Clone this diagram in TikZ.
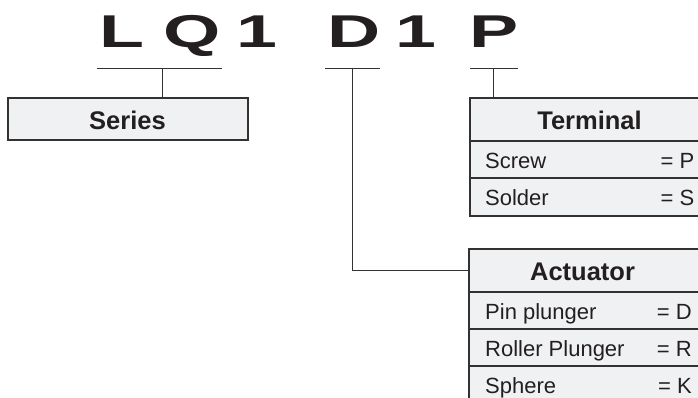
\documentclass[tikz,border=0pt]{standalone}
\usepackage{fontspec}
\setmainfont{Liberation Sans}
\newfontfamily\bigcode[FakeStretch=1.6]{Liberation Sans}
\definecolor{boxfill}{RGB}{240,241,243}
\definecolor{boxline}{RGB}{50,50,50}
\definecolor{ink}{RGB}{35,31,32}
\tikzset{
  code/.style={font=\bigcode\bfseries\fontsize{46}{46}\selectfont, text=ink, anchor=base, inner sep=0pt},
  cell/.style={draw=boxline, fill=boxfill, line width=1.1pt, inner sep=0pt},
  hdr/.style={font=\bfseries\fontsize{25.5}{26}\selectfont, text=ink, inner sep=0pt},
  item/.style={font=\fontsize{22}{22}\selectfont, text=ink, anchor=base west, inner sep=0pt},
  code2/.style={font=\fontsize{22}{22}\selectfont, text=ink, anchor=base east, inner sep=0pt},
  link/.style={draw=boxline, line width=0.9pt},
}
\begin{document}
\begin{tikzpicture}[x=1pt,y=-1pt]
\useasboundingbox (0,0) rectangle (698,398);
\begin{scope}
\clip (0,0) rectangle (698,398);
% code letters
\node[code] (cL) at (121.5,48) {L};
\node[code] (cQ) at (192,48) {Q};
\node[code] (c1) at (256.5,48) {1};
\node[code] (cD) at (354.5,48) {D};
\node[code] (c2) at (415.5,48) {1};
\node[code] (cP) at (494,48) {P};
% bracket lines
\coordinate (b1l) at (97,68);  \coordinate (b1r) at (222,68); \coordinate (b1m) at (162,68);
\coordinate (b2l) at (325,68); \coordinate (b2r) at (380,68); \coordinate (b2m) at (352,68);
\coordinate (b3l) at (470,68); \coordinate (b3r) at (518,68); \coordinate (b3m) at (493.5,68);
\draw[link] (b1l) -- (b1r);
\draw[link] (b2l) -- (b2r);
\draw[link] (b3l) -- (b3r);
% Series
\node[cell, minimum width=240pt, minimum height=42pt] (series) at (128,119) {};
\node[hdr] (seriesT) at (127.5,120) {Series};
% Terminal
\node[cell, minimum width=240pt, minimum height=43pt] (term) at (590,119.5) {};
\node[cell, minimum width=240pt, minimum height=37pt] (term1) at (590,159.5) {};
\node[cell, minimum width=240pt, minimum height=38pt] (term2) at (590,197) {};
\node[hdr] (termT) at (589.5,120.5) {Terminal};
\node[item] (t1a) at (485,168) {Screw};
\node[code2] (t1b) at (694.5,168) {= P};
\node[item] (t2a) at (485,205.5) {Solder};
\node[code2] (t2b) at (694.5,205.5) {= S};
% Actuator
\node[cell, minimum width=241pt, minimum height=43pt] (act) at (589.5,270.5) {};
\node[cell, minimum width=241pt, minimum height=37pt] (act1) at (589.5,310.5) {};
\node[cell, minimum width=241pt, minimum height=37pt] (act2) at (589.5,347.5) {};
\node[cell, minimum width=241pt, minimum height=37pt] (act3) at (589.5,384.5) {};
\node[hdr] (actT) at (582.5,271.5) {Actuator};
\node[item] (a1a) at (485,319) {Pin plunger};
\node[code2] (a1b) at (692,319) {= D};
\node[item] (a2a) at (485,356) {Roller Plunger};
\node[code2] (a2b) at (692,356) {= R};
\node[item] (a3a) at (485,393) {Sphere};
\node[code2] (a3b) at (692,393) {= K};
% connectors
\draw[link] (b1m) -- (b1m |- series.north);
\draw[link] (b3m) -- (b3m |- term.north);
\draw[link] (b2m) |- (act.west);
\end{scope}
\end{tikzpicture}
\end{document}
